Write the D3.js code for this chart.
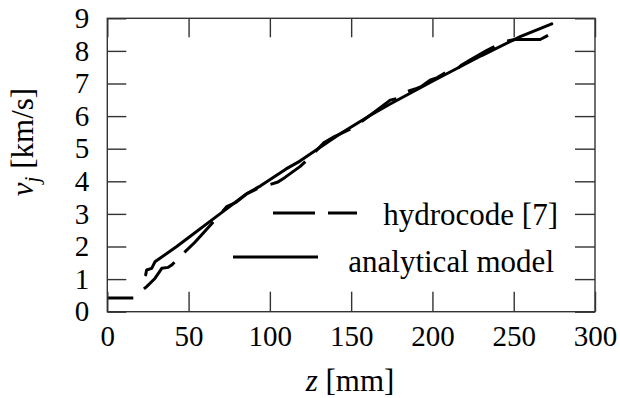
<!DOCTYPE html>
<html>
<head>
<meta charset="utf-8">
<script src="https://cdn.jsdelivr.net/npm/d3@7"></script>
</head>
<body style="margin:0">
<script>
// data
const hydroZ = [0, 16, 24.2, 29.3, 33.5, 37.5, 39.6, 45.8, 53.9, 67.3, 73.4, 79, 86, 94, 100, 105, 109.3,
  118.5, 125, 132.9, 140, 146.2, 149.3, 152.4, 155.5, 165, 174, 179, 184.2, 190.3, 193, 198.5, 203,
  208.8, 215.9, 218, 223.1, 233, 243.6, 251, 266.3, 277.4];
const hydroV = [0.42, 0.42, 0.77, 1.02, 1.33, 1.36, 1.43, 1.74, 2.13, 2.87, 3.22, 3.35, 3.62, 3.82, 3.9, 3.98, 4.12,
  4.45, 4.75, 5.17, 5.38, 5.52, 5.6, 5.73, 5.8, 6.15, 6.49, 6.55, 6.75, 6.85, 6.9, 7.1, 7.18,
  7.36, 7.48, 7.57, 7.72, 8.0, 8.28, 8.35, 8.35, 8.64];

const analyticZ = [23.6, 24.2, 27.3, 29.3, 42.7, 69.3, 85.7, 94.3, 110, 118.5, 143, 161.6, 174, 200, 230, 254, 273.4];
const analyticV = [1.13, 1.28, 1.33, 1.53, 2.0, 3.0, 3.62, 3.86, 4.38, 4.62, 5.45, 6.02, 6.37, 7.07, 7.85, 8.44, 8.83];

const xTicks = [0, 50, 100, 150, 200, 250, 300];
const yTicks = [0, 1, 2, 3, 4, 5, 6, 7, 8, 9];
const seriesNames = ["hydrocode [7]", "analytical model"];

const W = 620, H = 398;
const margin = { top: 18.3, right: 25, bottom: 86.3, left: 107.3 };
const width = W - margin.left - margin.right;
const height = H - margin.top - margin.bottom;
const fam = "Liberation Serif";

const svg = d3.select("body")
  .append("svg")
  .attr("width", W)
  .attr("height", H);

const g = svg.append("g")
  .attr("transform", `translate(${margin.left},${margin.top})`);

const x = d3.scaleLinear().domain([0, 300]).range([0, width]);
const y = d3.scaleLinear().domain([0, 9]).range([height, 0]);

const axisColor = "#333";

// plot frame and lines first
g.append("rect")
  .attr("width", width)
  .attr("height", height)
  .attr("fill", "none")
  .attr("stroke", axisColor)
  .attr("stroke-width", 1.4);

const line = d3.line()
  .x(d => x(d[0]))
  .y(d => y(d[1]));

const hydro = hydroZ.map((z, i) => [z, hydroV[i]]);
const analytic = analyticZ.map((z, i) => [z, analyticV[i]]);

g.append("path")
  .datum(analytic)
  .attr("d", line)
  .attr("fill", "none")
  .attr("stroke", "#000")
  .attr("stroke-width", 3)
  .attr("stroke-linecap", "round")
  .attr("stroke-linejoin", "round");

g.append("path")
  .datum(hydro)
  .attr("d", line)
  .attr("fill", "none")
  .attr("stroke", "#000")
  .attr("stroke-width", 3)
  .attr("stroke-dasharray", "42,14")
  .attr("stroke-dashoffset", 16)
  .attr("stroke-linejoin", "round");

// legend text written first, same way as a plain text list
const legendY = [225, 272];
const legendX = [558, 554];
svg.selectAll(".legend-text")
  .data(seriesNames)
  .join("text")
  .attr("class", "legend-text")
  .attr("x", (d, i) => legendX[i])
  .attr("y", (d, i) => legendY[i])
  .attr("font-size", 31)
  .style("font-family", d => `"${fam}"`)
  .attr("text-anchor", "end")
  .text(d => d);

svg.append("line")
  .attr("x1", 273).attr("x2", 357).attr("y1", 213).attr("y2", 213)
  .attr("stroke", "#000").attr("stroke-width", 3)
  .attr("stroke-dasharray", "42,13");
svg.append("line")
  .attr("x1", 233).attr("x2", 318).attr("y1", 257).attr("y2", 257)
  .attr("stroke", "#000").attr("stroke-width", 3);

function styleAxis(sel) {
  sel.attr("font-family", null).attr("font-size", null);
  sel.select(".domain").remove();
  sel.selectAll(".tick line").attr("stroke", axisColor).attr("stroke-width", 1.4);
  sel.selectAll(".tick text")
    .attr("fill", "#000")
    .attr("font-size", 29)
    .style("font-family", d => `"${fam}"`);
}

g.append("g")
  .attr("transform", `translate(0,${height})`)
  .call(d3.axisBottom(x).tickValues(xTicks).tickSizeInner(-20).tickSizeOuter(0).tickPadding(14))
  .call(styleAxis);

g.append("g")
  .call(d3.axisLeft(y).tickValues(yTicks).tickSizeInner(-19).tickSizeOuter(0).tickPadding(18))
  .call(styleAxis);

g.append("g")
  .call(d3.axisTop(x).tickValues(xTicks).tickSizeInner(-19).tickSizeOuter(0).tickFormat(""))
  .call(styleAxis);

g.append("g")
  .attr("transform", `translate(${width},0)`)
  .call(d3.axisRight(y).tickValues(yTicks).tickSizeInner(-20).tickSizeOuter(0).tickFormat(""))
  .call(styleAxis);

// axis titles
const xt = svg.append("text")
  .attr("x", 350).attr("y", 391)
  .attr("text-anchor", "middle")
  .attr("font-size", 31)
  .style("font-family", `"${fam}"`);
xt.append("tspan").attr("font-style", "italic").text("z");
xt.append("tspan").text(" [mm]");

const yt = svg.append("text")
  .attr("transform", "translate(33,142) rotate(-90)")
  .attr("text-anchor", "middle")
  .attr("font-size", 31)
  .style("font-family", `"${fam}"`);
yt.append("tspan").attr("font-style", "italic").text("v");
yt.append("tspan").attr("font-style", "italic").attr("font-size", 21).attr("dy", 6).text("j");
yt.append("tspan").attr("dy", -6).text(" [km/s]");
</script>
</body>
</html>
